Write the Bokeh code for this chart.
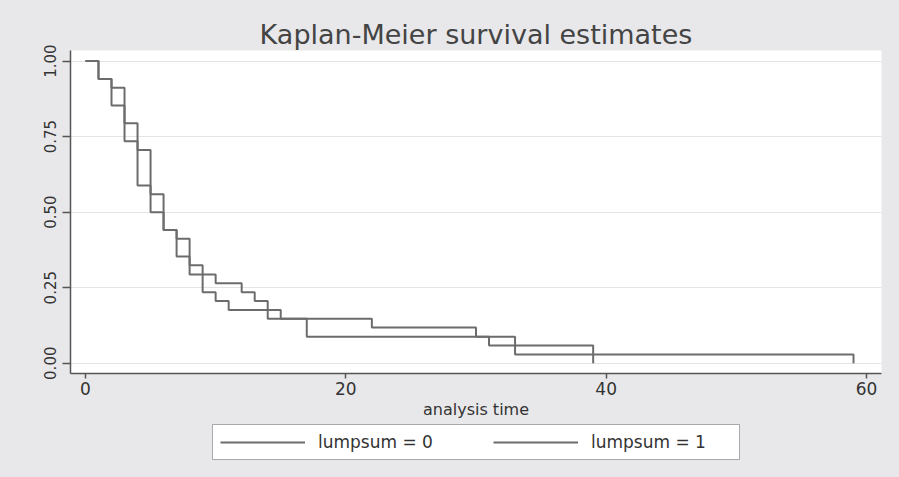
from bokeh.plotting import figure
from bokeh.layouts import column
from bokeh.models import Legend, LegendItem, Range1d, FixedTicker, PrintfTickFormatter
from bokeh.embed import file_html
from bokeh.resources import INLINE

# Kaplan-Meier step data
time_0 = [0, 1, 2, 3, 4, 5, 6, 7, 8, 9, 10, 11, 15, 17, 31, 39]
surv_0 = [1.0, 0.941, 0.912, 0.794, 0.706, 0.559, 0.441, 0.412, 0.324, 0.235, 0.206, 0.176, 0.147, 0.088, 0.059, 0.0]
time_1 = [0, 1, 2, 3, 4, 5, 6, 7, 8, 10, 12, 13, 14, 22, 30, 33, 59]
surv_1 = [1.0, 0.941, 0.853, 0.735, 0.588, 0.500, 0.441, 0.353, 0.294, 0.265, 0.235, 0.206, 0.147, 0.118, 0.088, 0.029, 0.0]
labels = ["lumpsum = 0", "lumpsum = 1"]
x_ticks = [0, 20, 40, 60]
y_ticks = [0, 0.25, 0.5, 0.75, 1.0]

FONT = "DejaVu Sans"
LINE = "#6c6c6c"
BG = "#E8E8EA"

p = figure(width=899, height=424, output_backend="svg", toolbar_location=None,
           x_range=Range1d(-1.15, 61.15), y_range=Range1d(-0.034, 1.035),
           min_border_left=70, min_border_right=18, min_border_top=50, min_border_bottom=51,
           background_fill_color="white", border_fill_color=BG,
           outline_line_color=None)

p.title.text = "Kaplan-Meier survival estimates"
p.title.align = "center"
p.title.text_font = FONT
p.title.text_font_size = "27px"
p.title.text_font_style = "normal"
p.title.text_color = "#444444"
p.title.standoff = 2

p.step(time_0, surv_0, mode="after", line_color=LINE, line_width=2)
p.step(time_1, surv_1, mode="after", line_color=LINE, line_width=2)

p.xgrid.visible = False
p.ygrid.grid_line_color = "#E4E4E4"
p.ygrid.grid_line_width = 1

p.xaxis.ticker = FixedTicker(ticks=x_ticks)
p.yaxis.ticker = FixedTicker(ticks=y_ticks)
p.yaxis.formatter = PrintfTickFormatter(format="%.2f")
p.yaxis.major_label_orientation = "vertical"

for ax in (p.xaxis[0], p.yaxis[0]):
    ax.axis_line_color = "#555555"
    ax.axis_line_width = 1.5
    ax.major_tick_line_color = "#555555"
    ax.major_tick_line_width = 1.5
    ax.major_tick_in = 0
    ax.minor_tick_line_color = None
    ax.major_label_text_font = FONT
    ax.major_label_text_color = "#333333"
    ax.axis_label_text_font = FONT
    ax.axis_label_text_font_style = "normal"
    ax.axis_label_text_color = "#333333"

p.xaxis.major_tick_out = 5
p.xaxis.major_label_text_font_size = "17px"
p.xaxis.major_label_standoff = 3
p.xaxis.axis_label = "analysis time"
p.xaxis.axis_label_text_font_size = "16px"
p.xaxis.axis_label_standoff = 2

p.yaxis.major_tick_out = 8
p.yaxis.major_label_text_font_size = "15px"
p.yaxis.major_label_standoff = 6

# legend strip below the plot (series drawn off-screen so only the key shows)
lg = figure(width=899, height=53, output_backend="svg", toolbar_location=None,
            x_range=Range1d(100, 101), y_range=Range1d(100, 101),
            min_border_left=70, min_border_right=18, min_border_top=0, min_border_bottom=0,
            background_fill_color=None, border_fill_color=None, outline_line_color=None,
            styles={"background-color": BG})
lg.axis.visible = False
lg.grid.visible = False
k0 = lg.step(time_0, surv_0, mode="after", line_color=LINE, line_width=2)
k1 = lg.step(time_1, surv_1, mode="after", line_color=LINE, line_width=2)

legend = Legend(items=[LegendItem(label=labels[0], renderers=[k0]),
                       LegendItem(label=labels[1], renderers=[k1])],
                orientation="horizontal", location=(142, 17),
                glyph_width=85, glyph_height=18, label_standoff=13,
                spacing=34, padding=7, label_width=141, label_height=18,
                label_text_font=FONT, label_text_font_size="17px", label_text_color="#333333",
                border_line_color="#555555", border_line_width=1.5,
                background_fill_color="white", background_fill_alpha=1.0, margin=0)
lg.add_layout(legend)

layout = column(p, lg, spacing=0, styles={"background-color": BG})
html = file_html(layout, INLINE)
html = html.replace("<body>", '<body style="margin:0;background:#E8E8EA">', 1)
open("out.html", "w").write(html)
